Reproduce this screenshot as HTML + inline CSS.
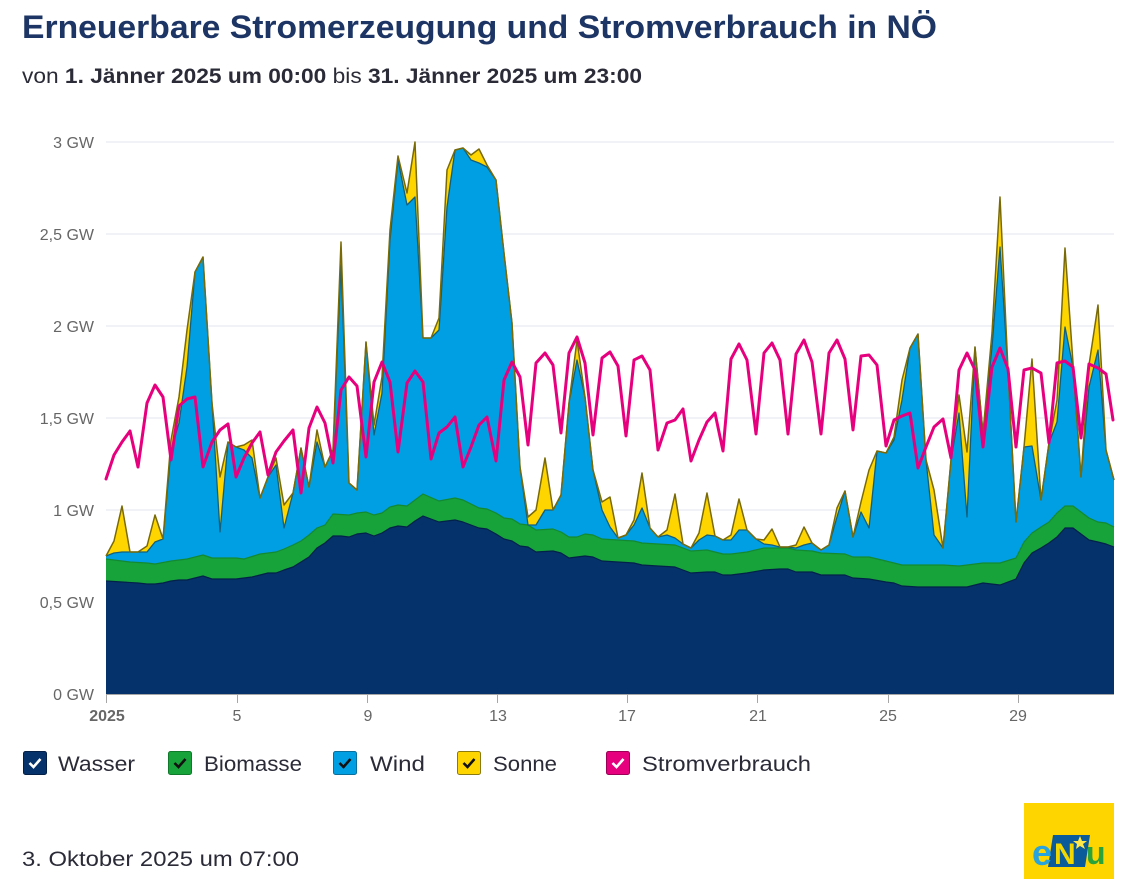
<!DOCTYPE html>
<html><head><meta charset="utf-8">
<style>
html,body{margin:0;padding:0;background:#fff;}
svg{display:block;}
text{font-family:"Liberation Sans",sans-serif;}
</style></head>
<body>
<svg width="1131" height="879" viewBox="0 0 1131 879" xmlns="http://www.w3.org/2000/svg">
<rect width="1131" height="879" fill="#fff"/>
<text x="22" y="38" font-size="32" font-weight="bold" fill="#1c3564" textLength="915" lengthAdjust="spacingAndGlyphs">Erneuerbare Stromerzeugung und Stromverbrauch in NÖ</text>
<text x="22" y="83" font-size="21" fill="#2b2b38" textLength="620" lengthAdjust="spacingAndGlyphs">von <tspan font-weight="bold">1. Jänner 2025 um 00:00</tspan> bis <tspan font-weight="bold">31. Jänner 2025 um 23:00</tspan></text>

<!-- grid -->
<g stroke="#e3e6ef" stroke-width="1">
<line x1="106" y1="142" x2="1114" y2="142"/>
<line x1="106" y1="234" x2="1114" y2="234"/>
<line x1="106" y1="326" x2="1114" y2="326"/>
<line x1="106" y1="418" x2="1114" y2="418"/>
<line x1="106" y1="510" x2="1114" y2="510"/>
<line x1="106" y1="602" x2="1114" y2="602"/>
</g>
<g font-size="16" fill="#666" text-anchor="end">
<text x="94" y="148">3 GW</text>
<text x="94" y="240">2,5 GW</text>
<text x="94" y="332">2 GW</text>
<text x="94" y="424">1,5 GW</text>
<text x="94" y="516">1 GW</text>
<text x="94" y="608">0,5 GW</text>
<text x="94" y="700">0 GW</text>
</g>

<!-- Sonne fill -->
<polygon fill="#ffd500" points="106,694 106,556 114,541 122,506 130,552 138,552 147,546 155,515 163,539 171,440 179,397 187,330 195,272 203,257 212,403 220,477 228,442 236,447 244,445 252,440 260,498 268,477 276,458 284,505 293,493 301,448 309,487 317,430 325,467 333,450 341,242 349,483 357,490 366,342 374,425 382,377 390,230 398,156 407,193 415,142 423,338 431,338 439,318 447,170 455,150 463,148 471,155 479,149 487,165 496,180 504,253 512,323 520,467 528,517 536,510 545,458 553,510 561,495 569,403 577,340 585,397 593,470 602,502 610,497 618,538 626,535 634,520 642,473 650,528 658,537 667,530 675,494 683,544 691,548 699,533 707,493 715,536 723,540 731,535 739,499 747,530 756,539 764,540 772,529 780,547 788,547 796,545 804,527 812,543 821,550 829,545 837,508 845,491 853,537 861,502 869,470 877,451 886,453 894,437 902,380 910,348 918,334 926,460 934,490 943,548 951,460 959,395 967,452 975,347 983,433 992,333 1000,197 1008,370 1016,522 1024,447 1032,359 1041,500 1049,443 1057,400 1065,248 1073,363 1081,477 1089,365 1098,305 1106,450 1114,480 1114,694"/>
<!-- Wind fill -->
<polygon fill="#009fe3" points="106,694 106,556 114,553 122,552 130,552 138,552 147,552 155,542 163,539 171,450 179,423 187,367 195,272 203,257 212,403 220,532 228,442 236,447 244,450 252,458 260,498 268,477 276,465 284,528 293,493 301,448 309,487 317,442 325,467 333,450 341,265 349,483 357,490 366,342 374,435 382,393 390,240 398,160 407,205 415,197 423,338 431,338 439,330 447,207 455,150 463,148 471,160 479,163 487,167 496,180 504,253 512,323 520,467 528,525 536,525 545,510 553,510 561,495 569,403 577,360 585,397 593,470 602,510 610,527 618,538 626,535 634,525 642,508 650,528 658,537 667,535 675,538 683,544 691,548 699,540 707,535 715,536 723,540 731,540 739,530 747,530 756,539 764,544 772,545 780,547 788,547 796,548 804,545 812,543 821,550 829,545 837,517 845,491 853,537 861,512 869,528 877,451 886,453 894,440 902,400 910,348 918,334 926,460 934,535 943,548 951,460 959,413 967,517 975,347 983,433 992,347 1000,247 1008,370 1016,522 1024,447 1032,446 1041,500 1049,443 1057,422 1065,327 1073,367 1081,477 1089,387 1098,350 1106,450 1114,480 1114,694"/>
<!-- Biomasse fill -->
<polygon fill="#17a23a" points="106,694 106,559 130,562 147,563 155,564 171,561 187,559 203,555 212,558 220,558 236,558 244,559 260,554 268,553 276,552 284,549 293,545 301,541 309,535 317,528 325,525 333,514 349,515 357,513 366,512 374,515 382,513 390,507 398,505 407,506 415,500 423,494 439,501 455,498 463,500 479,508 487,509 496,513 504,518 512,519 520,524 528,525 536,530 553,529 561,532 569,537 577,537 585,534 593,535 602,539 618,540 634,541 642,543 658,544 675,545 691,551 707,550 723,554 731,554 747,552 764,548 780,548 788,548 796,550 812,551 821,553 845,554 853,557 869,557 886,561 894,563 902,565 926,565 943,565 959,566 975,564 983,563 1000,563 1016,558 1024,542 1032,533 1041,527 1049,522 1057,513 1065,506 1073,506 1081,512 1089,518 1098,522 1106,523 1114,527 1114,694"/>
<!-- Wasser fill -->
<polygon fill="#06326b" points="106,694 106,581 122,582 138,583 147,584 155,584 163,583 171,581 179,580 187,580 195,578 203,576 212,579 220,579 228,579 236,579 244,578 252,577 260,575 268,573 276,573 284,570 293,567 301,562 309,557 317,548 325,543 333,536 341,536 349,537 357,534 366,533 374,536 382,533 390,528 398,526 407,527 415,521 423,516 439,522 455,520 463,522 479,528 487,529 496,534 504,539 512,541 520,546 528,547 536,552 553,551 561,553 569,558 577,557 585,556 593,557 602,561 618,562 634,563 642,565 658,566 675,567 691,573 707,572 715,572 723,575 731,575 747,573 764,570 780,569 788,569 796,572 812,572 821,575 845,575 853,578 869,579 886,582 894,583 902,586 918,587 934,587 951,587 967,587 975,585 983,583 1000,585 1016,579 1024,563 1032,553 1041,548 1049,543 1057,537 1065,528 1073,528 1081,534 1089,540 1098,542 1106,544 1114,547 1114,694"/>

<!-- outlines -->
<polyline fill="none" stroke="#03224a" stroke-width="1.2" stroke-linejoin="round" points="106,581 122,582 138,583 147,584 155,584 163,583 171,581 179,580 187,580 195,578 203,576 212,579 220,579 228,579 236,579 244,578 252,577 260,575 268,573 276,573 284,570 293,567 301,562 309,557 317,548 325,543 333,536 341,536 349,537 357,534 366,533 374,536 382,533 390,528 398,526 407,527 415,521 423,516 439,522 455,520 463,522 479,528 487,529 496,534 504,539 512,541 520,546 528,547 536,552 553,551 561,553 569,558 577,557 585,556 593,557 602,561 618,562 634,563 642,565 658,566 675,567 691,573 707,572 715,572 723,575 731,575 747,573 764,570 780,569 788,569 796,572 812,572 821,575 845,575 853,578 869,579 886,582 894,583 902,586 918,587 934,587 951,587 967,587 975,585 983,583 1000,585 1016,579 1024,563 1032,553 1041,548 1049,543 1057,537 1065,528 1073,528 1081,534 1089,540 1098,542 1106,544 1114,547"/>
<polyline fill="none" stroke="#138a32" stroke-width="1.2" stroke-linejoin="round" points="106,559 130,562 147,563 155,564 171,561 187,559 203,555 212,558 220,558 236,558 244,559 260,554 268,553 276,552 284,549 293,545 301,541 309,535 317,528 325,525 333,514 349,515 357,513 366,512 374,515 382,513 390,507 398,505 407,506 415,500 423,494 439,501 455,498 463,500 479,508 487,509 496,513 504,518 512,519 520,524 528,525 536,530 553,529 561,532 569,537 577,537 585,534 593,535 602,539 618,540 634,541 642,543 658,544 675,545 691,551 707,550 723,554 731,554 747,552 764,548 780,548 788,548 796,550 812,551 821,553 845,554 853,557 869,557 886,561 894,563 902,565 926,565 943,565 959,566 975,564 983,563 1000,563 1016,558 1024,542 1032,533 1041,527 1049,522 1057,513 1065,506 1073,506 1081,512 1089,518 1098,522 1106,523 1114,527"/>
<polyline fill="none" stroke="#12607e" stroke-width="1.3" stroke-linejoin="round" points="106,556 114,553 122,552 130,552 138,552 147,552 155,542 163,539 171,450 179,423 187,367 195,272 203,257 212,403 220,532 228,442 236,447 244,450 252,458 260,498 268,477 276,465 284,528 293,493 301,448 309,487 317,442 325,467 333,450 341,265 349,483 357,490 366,342 374,435 382,393 390,240 398,160 407,205 415,197 423,338 431,338 439,330 447,207 455,150 463,148 471,160 479,163 487,167 496,180 504,253 512,323 520,467 528,525 536,525 545,510 553,510 561,495 569,403 577,360 585,397 593,470 602,510 610,527 618,538 626,535 634,525 642,508 650,528 658,537 667,535 675,538 683,544 691,548 699,540 707,535 715,536 723,540 731,540 739,530 747,530 756,539 764,544 772,545 780,547 788,547 796,548 804,545 812,543 821,550 829,545 837,517 845,491 853,537 861,512 869,528 877,451 886,453 894,440 902,400 910,348 918,334 926,460 934,535 943,548 951,460 959,413 967,517 975,347 983,433 992,347 1000,247 1008,370 1016,522 1024,447 1032,446 1041,500 1049,443 1057,422 1065,327 1073,367 1081,477 1089,387 1098,350 1106,450 1114,480"/>
<polyline fill="none" stroke="#7a6a06" stroke-width="1.5" stroke-linejoin="round" points="106,556 114,541 122,506 130,552 138,552 147,546 155,515 163,539 171,440 179,397 187,330 195,272 203,257 212,403 220,477 228,442 236,447 244,445 252,440 260,498 268,477 276,458 284,505 293,493 301,448 309,487 317,430 325,467 333,450 341,242 349,483 357,490 366,342 374,425 382,377 390,230 398,156 407,193 415,142 423,338 431,338 439,318 447,170 455,150 463,148 471,155 479,149 487,165 496,180 504,253 512,323 520,467 528,517 536,510 545,458 553,510 561,495 569,403 577,340 585,397 593,470 602,502 610,497 618,538 626,535 634,520 642,473 650,528 658,537 667,530 675,494 683,544 691,548 699,533 707,493 715,536 723,540 731,535 739,499 747,530 756,539 764,540 772,529 780,547 788,547 796,545 804,527 812,543 821,550 829,545 837,508 845,491 853,537 861,502 869,470 877,451 886,453 894,437 902,380 910,348 918,334 926,460 934,490 943,548 951,460 959,395 967,452 975,347 983,433 992,333 1000,197 1008,370 1016,522 1024,447 1032,359 1041,500 1049,443 1057,400 1065,248 1073,363 1081,477 1089,365 1098,305 1106,450 1114,480"/>

<!-- Stromverbrauch -->
<polyline fill="none" stroke="#e6007e" stroke-width="3" stroke-linejoin="round" stroke-linecap="round" points="106,479 114,455 122,442 130,431 138,467 147,403 155,385 163,397 171,460 179,406 187,399 195,397 203,467 212,442 220,430 228,424 236,477 244,458 252,443 260,432 268,475 276,452 284,441 293,430 301,493 309,428 317,407 325,423 333,463 341,390 349,377 357,386 366,457 374,382 382,362 390,382 398,452 407,383 415,371 423,382 431,459 439,433 447,427 455,417 463,467 471,447 479,425 487,417 496,461 504,380 512,362 520,377 528,445 536,363 545,353 553,365 561,433 569,353 577,337 585,363 593,435 602,358 610,352 618,366 626,436 634,360 642,356 650,370 658,450 667,423 675,420 683,409 691,461 699,440 707,422 715,413 723,451 731,359 739,344 747,360 756,434 764,353 772,343 780,360 788,434 796,354 804,340 812,362 821,434 829,353 837,340 845,359 853,430 861,356 869,355 877,365 886,446 894,420 902,416 910,413 918,468 926,447 934,427 943,419 951,458 959,370 967,353 975,370 983,447 992,367 1000,348 1008,369 1016,447 1024,370 1032,368 1041,373 1049,443 1057,363 1065,361 1073,367 1081,438 1089,364 1098,368 1106,374 1113,420"/>

<!-- x axis -->
<line x1="106" y1="694.5" x2="1114" y2="694.5" stroke="#a6a6a6" stroke-width="1"/>
<g stroke="#a6a6a6" stroke-width="1">
<line x1="106.5" y1="694" x2="106.5" y2="703"/>
<line x1="237.5" y1="694" x2="237.5" y2="703"/>
<line x1="367.5" y1="694" x2="367.5" y2="703"/>
<line x1="497.5" y1="694" x2="497.5" y2="703"/>
<line x1="627.5" y1="694" x2="627.5" y2="703"/>
<line x1="757.5" y1="694" x2="757.5" y2="703"/>
<line x1="888.5" y1="694" x2="888.5" y2="703"/>
<line x1="1018.5" y1="694" x2="1018.5" y2="703"/>
</g>
<g font-size="16" fill="#666" text-anchor="middle">
<text x="107" y="721" font-weight="bold">2025</text>
<text x="237" y="721">5</text>
<text x="368" y="721">9</text>
<text x="498" y="721">13</text>
<text x="627" y="721">17</text>
<text x="758" y="721">21</text>
<text x="888" y="721">25</text>
<text x="1018" y="721">29</text>
</g>

<!-- legend -->
<g>
<rect x="23.5" y="751.5" width="23" height="23" rx="2" fill="#06326b" stroke="#031f45"/>
<path d="M29.5,763 l4,4 l7,-8" fill="none" stroke="#fff" stroke-width="2.6"/>
<text x="58" y="771" font-size="21" fill="#2b2b38" textLength="77" lengthAdjust="spacingAndGlyphs">Wasser</text>

<rect x="168.5" y="751.5" width="23" height="23" rx="2" fill="#17a23a" stroke="#107a2b"/>
<path d="M174.5,763 l4,4 l7,-8" fill="none" stroke="#111" stroke-width="2.6"/>
<text x="204" y="771" font-size="21" fill="#2b2b38" textLength="98" lengthAdjust="spacingAndGlyphs">Biomasse</text>

<rect x="333.5" y="751.5" width="23" height="23" rx="2" fill="#009fe3" stroke="#0a6f9a"/>
<path d="M339.5,763 l4,4 l7,-8" fill="none" stroke="#111" stroke-width="2.6"/>
<text x="370" y="771" font-size="21" fill="#2b2b38" textLength="55" lengthAdjust="spacingAndGlyphs">Wind</text>

<rect x="457.5" y="751.5" width="23" height="23" rx="2" fill="#ffd500" stroke="#8a7a10"/>
<path d="M463.5,763 l4,4 l7,-8" fill="none" stroke="#111" stroke-width="2.6"/>
<text x="493" y="771" font-size="21" fill="#2b2b38" textLength="64" lengthAdjust="spacingAndGlyphs">Sonne</text>

<rect x="606.5" y="751.5" width="23" height="23" rx="2" fill="#e6007e" stroke="#9c0056"/>
<path d="M612.5,763 l4,4 l7,-8" fill="none" stroke="#fff" stroke-width="2.6"/>
<text x="642" y="771" font-size="21" fill="#2b2b38" textLength="169" lengthAdjust="spacingAndGlyphs">Stromverbrauch</text>
</g>

<!-- footer -->
<text x="22" y="866" font-size="21" fill="#2b2b38" textLength="277" lengthAdjust="spacingAndGlyphs">3. Oktober 2025 um 07:00</text>

<!-- logo -->
<rect x="1024" y="803" width="90" height="76" fill="#ffd500"/>
<polygon points="1053,835 1090,835 1085,867 1048,867" fill="#0b5a9a"/>
<text x="1032" y="865" font-size="36" font-weight="bold" fill="#28a3de">e</text>
<text x="1054" y="864" font-size="30" font-weight="bold" fill="#f2d800">N</text>
<polygon points="1080,836 1082,841 1087,841 1083,844 1085,849 1080,846 1076,849 1077,844 1073,841 1078,841" fill="#ffe84a"/>
<text x="1086" y="864" font-size="32" font-weight="bold" fill="#2aa33a">u</text>
</svg>
</body></html>
